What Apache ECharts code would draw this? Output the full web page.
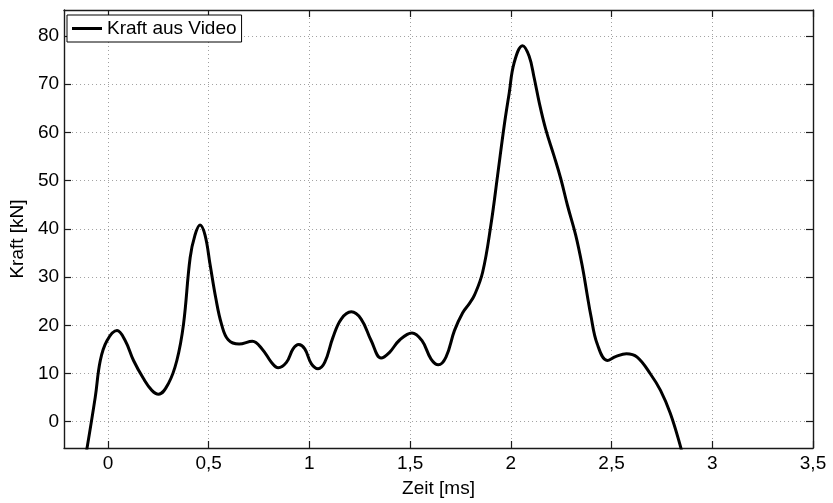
<!DOCTYPE html>
<html><head><meta charset="utf-8">
<script src="https://cdn.jsdelivr.net/npm/echarts@6/dist/echarts.min.js"></script>
<style>html,body{margin:0;padding:0;background:#fff}#c{width:833px;height:503px}</style>
</head><body><div id="c"></div>
<script>
const seriesName = 'Kraft aus Video';
const xTicks = [0, 0.5, 1, 1.5, 2, 2.5, 3, 3.5];
const yTicks = [0, 10, 20, 30, 40, 50, 60, 70, 80];
const timeMs = [-0.11, -0.063, -0.038, -0.005, 0.045, 0.086, 0.127, 0.177, 0.218, 0.251,
  0.300, 0.342, 0.375, 0.408, 0.432, 0.457, 0.482, 0.507, 0.535, 0.564,
  0.597, 0.651, 0.717, 0.767, 0.812, 0.845, 0.886, 0.919, 0.947, 0.977,
  1.010, 1.043, 1.076, 1.117, 1.158, 1.208, 1.257, 1.307, 1.356, 1.398,
  1.447, 1.509, 1.559, 1.604, 1.640, 1.678, 1.720, 1.761, 1.794, 1.820,
  1.860, 1.901, 1.934, 1.967, 1.992, 2.016, 2.058, 2.091, 2.116, 2.141,
  2.173, 2.214, 2.248, 2.281, 2.322, 2.355, 2.380, 2.396, 2.429, 2.479,
  2.520, 2.574, 2.627, 2.693, 2.743, 2.792, 2.842, 2.852];
const forceKN = [-7, 5.1, 12.7, 16.8, 18.9, 16.8, 12.7, 8.9, 6.5, 5.7,
  7.9, 12.7, 20.2, 34, 38.7, 40.8, 38.7, 32.6, 25.7, 20.2,
  17.0, 16.1, 16.7, 15.0, 12.3, 11.2, 12.3, 15.1, 16.0, 15.1,
  12.0, 11.0, 12.3, 17.5, 21.3, 22.8, 21.3, 16.8, 13.2, 14.4,
  16.9, 18.4, 16.8, 13.0, 11.8, 13.4, 18.9, 22.6, 24.5, 26.3,
  31.0, 40.8, 51.0, 61.4, 68.2, 74.4, 78.0, 75.8, 71.3, 66.2,
  60.7, 55.2, 50.4, 44.9, 38.7, 32.2, 26.1, 22.3, 16.1, 12.7,
  13.5, 14.1, 13.4, 9.9, 6.5, 1.7, -5.1, -7];

const X_MIN = -0.218, X_MAX = 3.5, Y_MIN = -5.45, Y_MAX = 85.4;
const FONT = 'Liberation Sans';
const fmt = v => String(v).replace('.', ',');
const axisLine = {show: true, onZero: false, lineStyle: {color: '#1a1a1a', width: 1.4}};
const grid = {show: true, type: [1, 3], color: '#a0a0a0', width: 1};

const chart = echarts.init(document.getElementById('c'), null, {renderer: 'canvas'});
chart.setOption({
  animation: false,
  backgroundColor: '#fff',
  grid: {left: 62, right: 20, top: 10, bottom: 51.5, containLabel: false},
  legend: {
    left: 67, top: 15, orient: 'vertical',
    padding: [4, 5, 4, 5],
    backgroundColor: '#fff', borderColor: '#000', borderWidth: 1, borderRadius: 0,
    itemWidth: 30, itemHeight: 3,
    data: [{name: seriesName, icon: 'rect'}],
    textStyle: {fontFamily: FONT, fontSize: 19, color: '#000'}
  },
  xAxis: [{
    type: 'value', min: X_MIN, max: X_MAX, position: 'bottom',
    axisLine: axisLine,
    axisTick: {show: true, inside: true, length: 7, customValues: xTicks, lineStyle: {color: '#1a1a1a', width: 1.2}},
    axisLabel: {customValues: xTicks, formatter: fmt, margin: 6, fontFamily: FONT, fontSize: 19, color: '#000'},
    splitLine: {show: true, lineStyle: grid},
    name: 'Zeit [ms]', nameLocation: 'middle', nameGap: 31,
    nameTextStyle: {fontFamily: FONT, fontSize: 19, color: '#000'}
  }, {
    type: 'value', min: X_MIN, max: X_MAX, position: 'top',
    axisLine: axisLine,
    axisTick: {show: true, inside: true, length: 7, customValues: xTicks, lineStyle: {color: '#1a1a1a', width: 1.2}},
    axisLabel: {show: false}, splitLine: {show: false}
  }],
  yAxis: [{
    type: 'value', min: Y_MIN, max: Y_MAX, position: 'left',
    axisLine: axisLine,
    axisTick: {show: true, inside: true, length: 7, customValues: yTicks, lineStyle: {color: '#1a1a1a', width: 1.2}},
    axisLabel: {customValues: yTicks, margin: 5, fontFamily: FONT, fontSize: 19, color: '#000'},
    splitLine: {show: true, lineStyle: grid},
    name: 'Kraft [kN]', nameLocation: 'middle', nameGap: 31,
    nameTextStyle: {fontFamily: FONT, fontSize: 19, color: '#000', padding: [0, 20, 0, 0]}
  }, {
    type: 'value', min: Y_MIN, max: Y_MAX, position: 'right',
    axisLine: axisLine,
    axisTick: {show: true, inside: true, length: 7, customValues: yTicks, lineStyle: {color: '#1a1a1a', width: 1.2}},
    axisLabel: {show: false}, splitLine: {show: false}
  }],
  series: [{
    name: seriesName, type: 'line', xAxisIndex: 0, yAxisIndex: 0,
    data: timeMs.map((t, i) => [t, forceKN[i]]),
    showSymbol: false, smooth: 0.4, clip: true,
    lineStyle: {color: '#000', width: 3},
    itemStyle: {color: '#000'}
  }]
});
</script></body></html>
